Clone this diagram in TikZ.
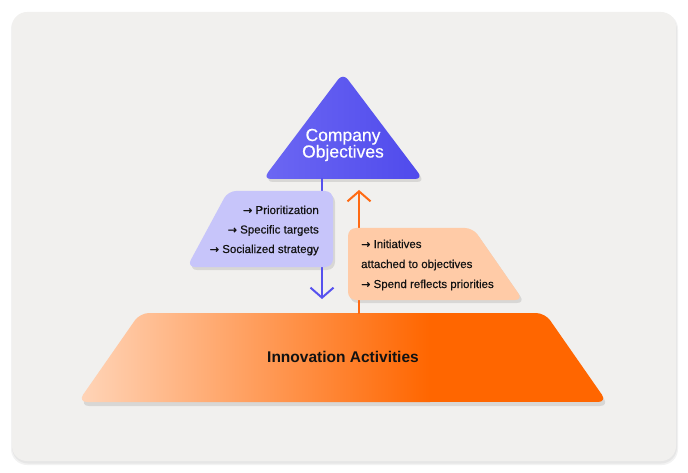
\documentclass[tikz,border=0pt]{standalone}
\usepackage{fontspec}
\setmainfont{Liberation Sans}
\newfontfamily\medfont[FakeBold=0.35]{Liberation Sans}
\newfontfamily\arrowfont[FakeBold=0.6]{DejaVu Sans}
\newcommand{\rarr}{{\arrowfont\fontsize{11}{12}\selectfont →}}
\usetikzlibrary{arrows.meta}
\definecolor{cardbg}{HTML}{F1F0EE}
\definecolor{triL}{HTML}{6C67F3}
\definecolor{triR}{HTML}{4F4AEC}
\definecolor{lav}{HTML}{C7C5FA}
\definecolor{peach}{HTML}{FFCBA7}
\definecolor{peachL}{HTML}{FFD5B9}
\definecolor{orangeD}{HTML}{FF6600}
\definecolor{orangeA}{HTML}{FF6A13}
\definecolor{blueA}{HTML}{5651EE}
\definecolor{ink}{HTML}{121212}
\begin{document}
\begin{tikzpicture}[x=1pt,y=-1pt,
  shadowfill/.style={fill=black,opacity=0.10},
  boxtext/.style={inner sep=0pt,text=ink,font=\medfont\fontsize{11.5}{14}\selectfont},
  titletext/.style={inner sep=0pt,text=white,align=center,font=\medfont\fontsize{17.5}{16.5}\selectfont},
  basetext/.style={inner sep=0pt,text=ink,font=\bfseries\fontsize{15.5}{18}\selectfont},
  conn/.style={line width=2pt,-{Straight Barb[length=10pt,width=23pt]}}]
\useasboundingbox (0,0) rectangle (688,473);
% card
\fill[black,opacity=0.05,rounded corners=16pt] (11,13) rectangle (678,465);
\fill[black,opacity=0.05,rounded corners=16pt] (12,14) rectangle (677,463.5);
\fill[cardbg,rounded corners=15pt] (12,12) rectangle (676,461);
% shadows
\fill[shadowfill,rounded corners=9pt] (142,317) -- (547,317) -- (609,406) -- (80,406) -- cycle;
\fill[shadowfill,rounded corners=8pt] (345,77) -- (425,182) -- (265,182) -- cycle;
\fill[shadowfill,rounded corners=8pt] (230,194) -- (335,194) -- (335,270) -- (189,270) -- cycle;
\fill[shadowfill,rounded corners=8pt] (350,231) -- (475,231) -- (525,303) -- (350,303) -- cycle;
% bottom trapezoid
\begin{scope}
\clip[rounded corners=9pt] (140,313) -- (545,313) -- (607,402) -- (78,402) -- cycle;
\shade[left color=peachL, right color=orangeD] (78,313) rectangle (430,402);
\fill[orangeD] (429.5,313) rectangle (607,402);
\end{scope}
\node[basetext,anchor=base] (act) at (343,362.5) {Innovation Activities};
% triangle
\shade[left color=triL,right color=triR,rounded corners=8pt] (343,73) -- (423,179) -- (263,179) -- cycle;
\node[titletext] (obj) at (343,145) {Company\\Objectives};
% connectors
\coordinate (objbase) at (322,178);
\coordinate (downtip) at (322,299);
\coordinate (actbase) at (359,314);
\coordinate (uptip) at (359,190);
\draw[conn,blueA] (objbase) -- (downtip);
\draw[conn,orangeA] (actbase) -- (uptip);
% lavender box
\fill[lav,rounded corners=8pt] (228,191) -- (333,191) -- (333,267) -- (187,267) -- cycle;
\node[boxtext,anchor=base east] (l1) at (319,214) {\rarr\ Prioritization};
\node[boxtext,anchor=base east] (l2) at (319,233.5) {\rarr\ Specific targets};
\node[boxtext,anchor=base east] (l3) at (319,253) {\rarr\ Socialized strategy};
% peach box
\fill[peach,rounded corners=8pt] (348,228) -- (473,228) -- (523,300) -- (348,300) -- cycle;
\node[boxtext,anchor=base west] (p1) at (361,248) {\rarr\ Initiatives};
\node[boxtext,anchor=base west] (p2) at (361,268) {attached to objectives};
\node[boxtext,anchor=base west] (p3) at (361,288) {\rarr\ Spend reflects priorities};
\end{tikzpicture}
\end{document}
